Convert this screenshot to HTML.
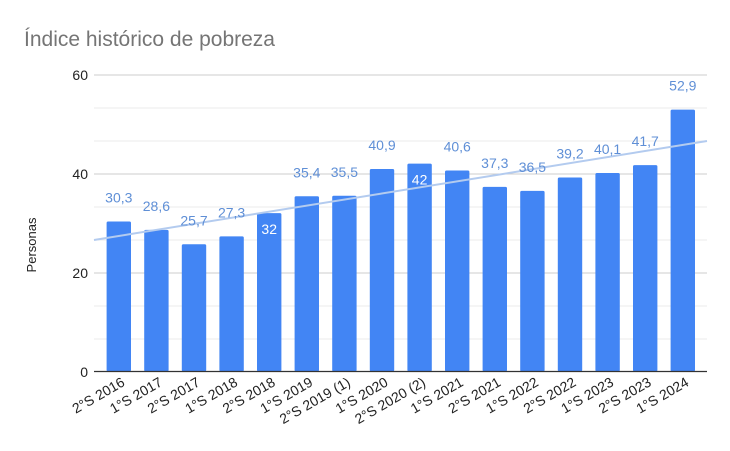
<!DOCTYPE html>
<html><head><meta charset="utf-8"><style>
html,body{margin:0;padding:0;background:#fff;}
svg{display:block;font-family:"Liberation Sans",Arial,sans-serif;}
</style></head><body>
<svg width="730" height="451" viewBox="0 0 730 451">
<rect width="730" height="451" fill="#fff"/>
<text x="24" y="46" font-size="21" fill="#757575">Índice histórico de pobreza</text>
<g stroke="#ebebeb" stroke-width="1">
<line x1="94" x2="707" y1="108" y2="108"/><line x1="94" x2="707" y1="141" y2="141"/>
<line x1="94" x2="707" y1="207" y2="207"/><line x1="94" x2="707" y1="240" y2="240"/>
<line x1="94" x2="707" y1="306" y2="306"/><line x1="94" x2="707" y1="339" y2="339"/>
</g>
<g stroke="#cccccc" stroke-width="1">
<line x1="94" x2="707" y1="75" y2="75"/><line x1="94" x2="707" y1="174" y2="174"/><line x1="94" x2="707" y1="273" y2="273"/>
</g>
<g font-size="14" fill="#222" text-anchor="end">
<text x="88" y="80">60</text><text x="88" y="179">40</text><text x="88" y="278">20</text><text x="88" y="377">0</text>
</g>
<text transform="translate(36,245) rotate(-90)" font-size="13" fill="#222" text-anchor="middle">Personas</text>
<g fill="#4285f4" id="bars"></g>
<line x1="94" y1="240" x2="707" y2="141" stroke="#b3cbef" stroke-width="2"/>
<line x1="94" x2="707" y1="371.5" y2="371.5" stroke="#333" stroke-width="1.2"/>
<g id="lbl"></g>
<script>
var d=[["2°S 2016",30.3],["1°S 2017",28.6],["2°S 2017",25.7],["1°S 2018",27.3],["2°S 2018",32],["1°S 2019",35.4],["2°S 2019 (1)",35.5],["1°S 2020",40.9],["2°S 2020 (2)",42],["1°S 2021",40.6],["2°S 2021",37.3],["1°S 2022",36.5],["2°S 2022",39.2],["1°S 2023",40.1],["2°S 2023",41.7],["1°S 2024",52.9]];
var ns="http://www.w3.org/2000/svg",b=document.getElementById("bars"),l=document.getElementById("lbl");
d.forEach(function(e,i){
 var cx=118.8+i*37.6,top=371.5-e[1]*4.95;
 var r=document.createElementNS(ns,"rect");
 r.setAttribute("x",cx-12.2);r.setAttribute("y",top);r.setAttribute("width",24.4);r.setAttribute("height",371.5-top);r.setAttribute("rx",1.5);b.appendChild(r);
 var t=document.createElementNS(ns,"text");
 var inside=(e[1]==32||e[1]==42);
 t.setAttribute("x",cx);t.setAttribute("y",inside?top+21:top-19);
 t.setAttribute("text-anchor","middle");t.setAttribute("font-size","14");
 t.setAttribute("fill",inside?"#fff":"#5f8fd6");
 t.textContent=String(e[1]).replace(".",",");l.appendChild(t);
 var x=document.createElementNS(ns,"text");
 x.setAttribute("transform","translate("+(cx+7)+",385) rotate(-30)");
 x.setAttribute("text-anchor","end");x.setAttribute("font-size","14");x.setAttribute("fill","#222");
 x.textContent=e[0];l.appendChild(x);
});
</script>
</svg>
</body></html>
